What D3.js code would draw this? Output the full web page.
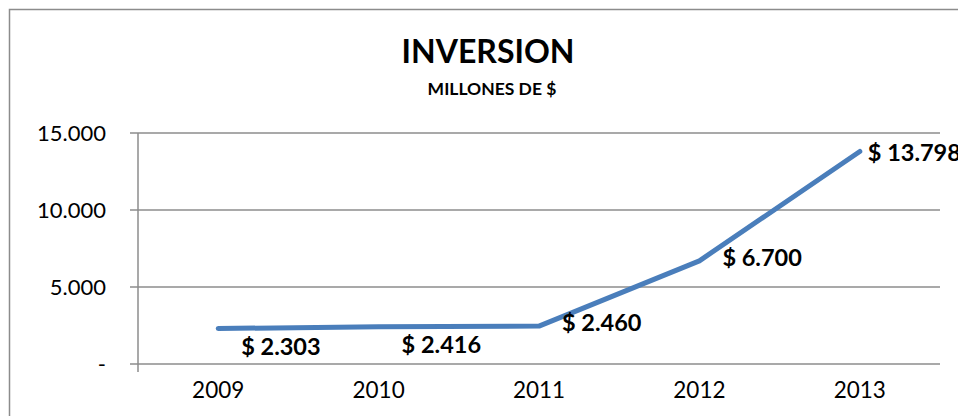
<!DOCTYPE html>
<html><head><meta charset="utf-8">
<script src="https://cdn.jsdelivr.net/npm/d3@7"></script>
<style>html,body{margin:0;padding:0;background:#fff;overflow:hidden}</style>
</head><body><svg id="c" width="958" height="416"></svg>
<script>
const categories = ["2009","2010","2011","2012","2013"];
const values = [2303, 2416, 2460, 6700, 13798];
const yTicks = [0, 5000, 10000, 15000];
const labelPlacement = ["below","below","right","right","edge"];
const title = "INVERSION";
const subtitle = "MILLONES DE $";

const svg = d3.select("#c");
const font = "Lato, 'Open Sans', sans-serif";
const fmt = v => v === 0 ? "-" : d3.format(",")(v).replace(/,/g, ".");

// outer frame
svg.append("rect").attr("x",9.5).attr("y",9.5).attr("width",1000).attr("height",500)
  .attr("fill","#fff").attr("stroke","#8c8c8c").attr("stroke-width",1.5);

const m = {left:138, right:940, top:133, bottom:364};
const x = d3.scaleBand().domain(categories).range([m.left, m.right]);
const y = d3.scaleLinear().domain([0,15000]).range([m.bottom, m.top]);

// gridlines
svg.append("g").selectAll("line").data(yTicks).join("line")
  .attr("x1", m.left-8).attr("x2", m.right)
  .attr("y1", d=>y(d)).attr("y2", d=>y(d))
  .attr("stroke","#8c8c8c").attr("stroke-width",1.5);
// vertical axis line
svg.append("line").attr("x1",m.left).attr("x2",m.left).attr("y1",m.top).attr("y2",m.bottom+8)
  .attr("stroke","#8c8c8c").attr("stroke-width",1.5);

// y tick labels
svg.append("g").selectAll("text").data(yTicks).join("text")
  .attr("x", 106).attr("y", d=>y(d)).attr("dy","0.35em")
  .attr("text-anchor","end").attr("font-family",font).attr("font-size",22).attr("fill","#000")
  .text(fmt);

// x labels
svg.append("g").selectAll("text").data(categories).join("text")
  .attr("x", d=>x(d)+x.bandwidth()/2).attr("y", 398)
  .attr("text-anchor","middle").attr("font-family",font).attr("font-size",22.5).attr("fill","#000")
  .text(d=>d);

// line
const line = d3.line().x((d,i)=>x(categories[i])+x.bandwidth()/2).y(d=>y(d));
svg.append("path").datum(values).attr("d",line).attr("fill","none")
  .attr("stroke","#4a7ebb").attr("stroke-width",5).attr("stroke-linejoin","round").attr("stroke-linecap","round");

// data labels
const dxFor = p => p === "edge" ? 8 : 23;
const dyFor = p => p === "below" ? 18 : (p === "edge" ? 1 : -3);
svg.append("g").selectAll("text").data(values).join("text")
  .attr("x",(d,i)=>x(categories[i])+x.bandwidth()/2+dxFor(labelPlacement[i]))
  .attr("y",(d,i)=>y(d) + dyFor(labelPlacement[i]))
  .attr("dy","0.35em")
  .attr("font-family",font).attr("font-size",23.5).attr("font-weight","bold").attr("fill","#000")
  .text(d=>"$ "+fmt(d));

// titles
svg.append("text").attr("x",488).attr("y",63).attr("text-anchor","middle")
  .attr("font-family",font).attr("font-size",32).attr("font-weight","bold").text(title);
svg.append("text").attr("x",492).attr("y",95).attr("text-anchor","middle")
  .attr("font-family",font).attr("font-size",17.5).attr("font-weight","bold").text(subtitle);
</script></body></html>
